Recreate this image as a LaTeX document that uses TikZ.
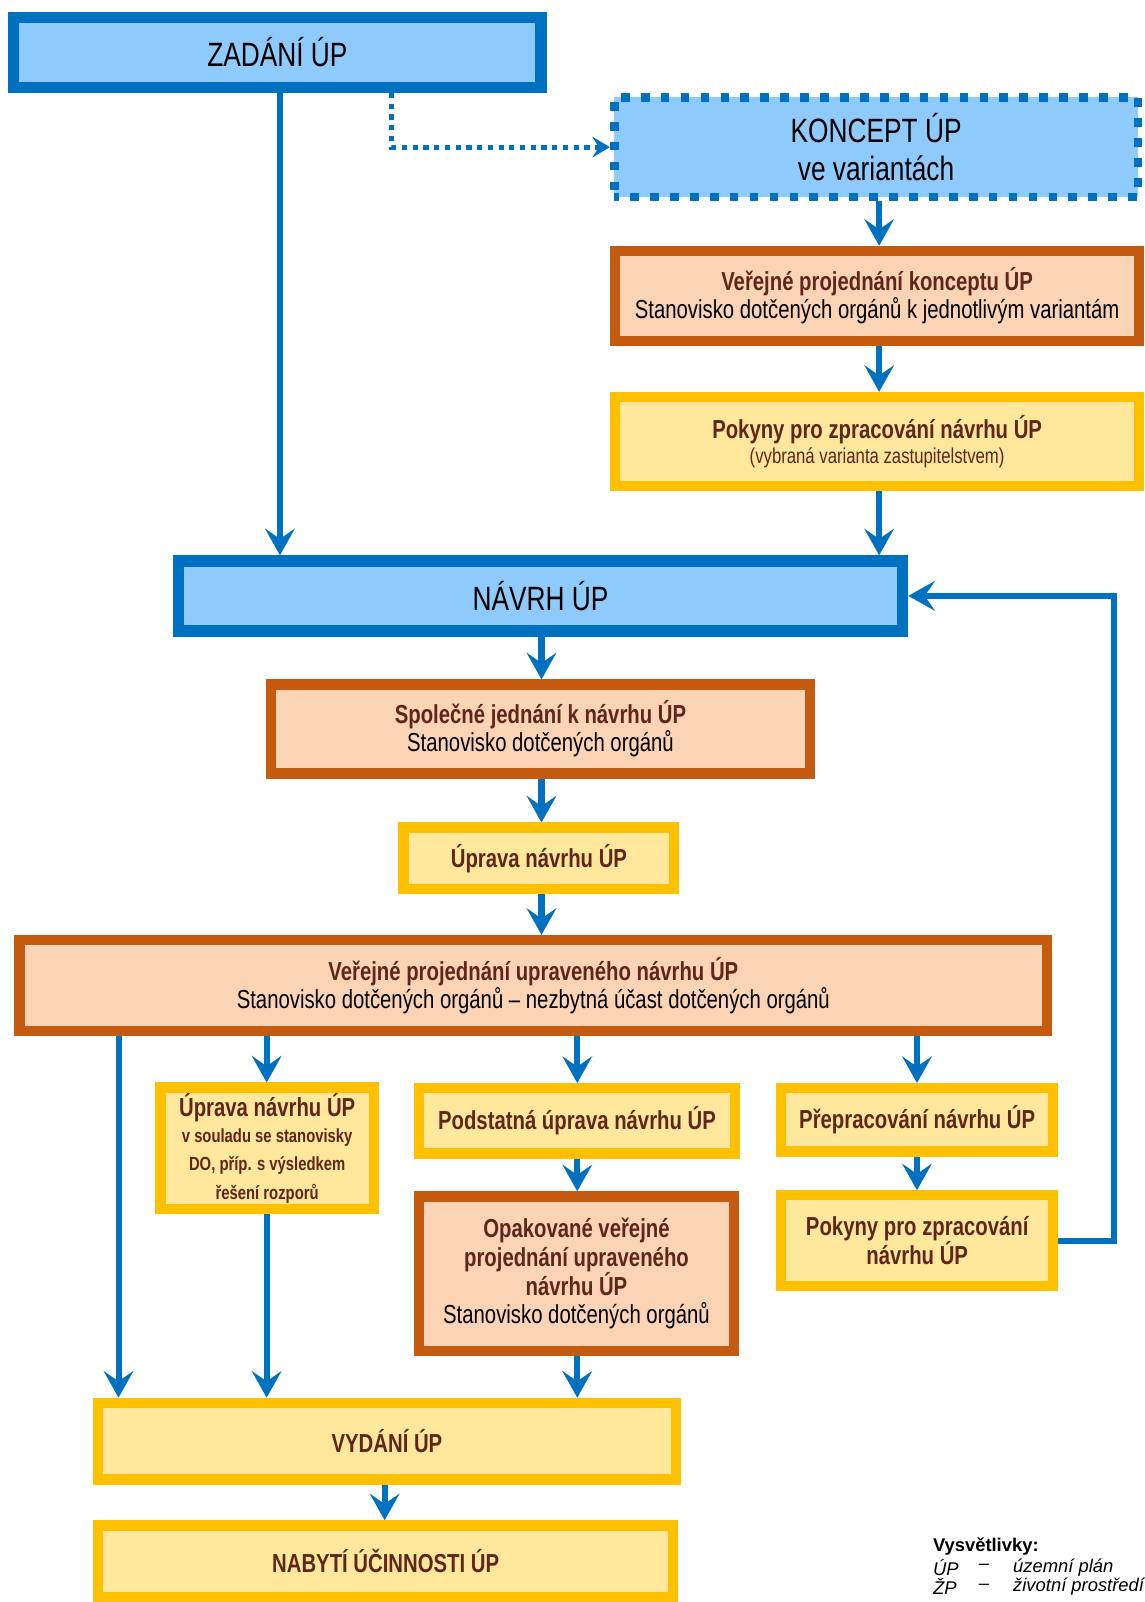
\documentclass[tikz,border=0pt]{standalone}
\usepackage{fontspec}
\setmainfont{Liberation Sans}[FakeStretch=0.78]
\newfontfamily\legendfont{Liberation Sans}
\usetikzlibrary{arrows.meta}
\definecolor{bline}{RGB}{0,112,192}
\definecolor{bfill}{RGB}{142,203,252}
\definecolor{brline}{RGB}{197,90,17}
\definecolor{peach}{RGB}{251,212,181}
\definecolor{yline}{RGB}{255,192,0}
\definecolor{yfill}{RGB}{255,231,155}
\definecolor{btext}{RGB}{96,37,27}
\tikzset{
  boxbase/.style={inner sep=0pt, align=center, font=\fontsize{25.5}{27.5}\selectfont},
  bluebox/.style={boxbase, draw=bline, fill=bfill, line width=11pt, text=black, font=\fontsize{33}{37}\selectfont},
  dashbox/.style={boxbase, draw=bline, fill=bfill, line width=8.5pt, dash pattern=on 8.5pt off 11pt, dash phase=4pt, text=black, font=\fontsize{33}{37}\selectfont},
  brownbox/.style={boxbase, draw=brline, fill=peach, line width=10pt},
  yellowbox/.style={boxbase, draw=yline, fill=yfill, line width=10pt, text=btext},
  arr/.style={draw=bline, line width=5.9pt, -{Stealth[length=26pt,width=29pt,inset=10pt]}},
  dotarr/.style={draw=bline, line width=4.9pt, dash pattern=on 5pt off 5.5pt, -{Stealth[length=17pt,width=20pt,inset=6pt]}},
  legend/.style={inner sep=0pt, anchor=west, font=\legendfont\fontsize{18}{20}\selectfont},
}
\newcommand\bx[8]{\node[#2, minimum width={#6-#4-#3}, minimum height={#7-#5-#3}] (#1) at ({(#4+#6)/2},{(#5+#7)/2}) {#8};}
\newcommand\tb[1]{{\color{btext}\bfseries #1}}
\newcommand\smb{\bfseries\fontsize{18.6}{20.5}\selectfont}
\begin{document}
\begin{tikzpicture}[x=1pt,y=-1pt]
\useasboundingbox (0,0) rectangle (1120,1568);
\fill[white] (0,0) rectangle (1120,1568);

\bx{zad}{bluebox}{11}{8}{11.5}{535}{91}{ZADÁNÍ ÚP}
\bx{kon}{dashbox}{8.5}{597}{91}{1118}{197}{KONCEPT ÚP\\ve variantách}
\bx{vk}{brownbox}{10}{597}{240.5}{1120}{338.5}{\tb{Veřejné projednání konceptu ÚP}\\Stanovisko dotčených orgánů k jednotlivým variantám}
\bx{pk1}{yellowbox}{10}{597}{383.5}{1120}{481}{\bfseries Pokyny pro zpracování návrhu ÚP\\[-3pt]\fontsize{21}{24}\selectfont (vybraná varianta zastupitelstvem)}
\bx{navrh}{bluebox}{11}{169}{543.5}{889}{623}{NÁVRH ÚP}
\bx{sj}{brownbox}{10}{260}{665}{798}{762}{\tb{Společné jednání k návrhu ÚP}\\Stanovisko dotčených orgánů}
\bx{up1}{yellowbox}{10}{390}{805}{665}{875}{\bfseries Úprava návrhu ÚP}
\bx{veu}{brownbox}{10}{14}{915}{1030}{1014}{\tb{Veřejné projednání upraveného návrhu ÚP}\\Stanovisko dotčených orgánů – nezbytná účast dotčených orgánů}
\bx{up2}{yellowbox}{10}{152}{1059.5}{371}{1188.5}{\bfseries Úprava návrhu ÚP\\[-2pt]\smb v souladu se stanovisky\\\smb DO, příp. s výsledkem\\\smb řešení rozporů}
\bx{pod}{yellowbox}{10}{405}{1060}{724.5}{1134}{\bfseries Podstatná úprava návrhu ÚP}
\bx{opa}{brownbox}{10}{405}{1166}{723.5}{1327.5}{\tb{Opakované veřejné}\\\tb{projednání upraveného}\\\tb{návrhu ÚP}\\Stanovisko dotčených orgánů}
\bx{pre}{yellowbox}{10}{759.5}{1060}{1036}{1132}{\bfseries Přepracování návrhu ÚP}
\bx{pk2}{yellowbox}{10}{759.5}{1165}{1036}{1263.5}{\bfseries Pokyny pro zpracování\\\bfseries návrhu ÚP}
\bx{vyd}{yellowbox}{10}{91}{1368}{666.5}{1453}{\bfseries VYDÁNÍ ÚP}
\bx{nab}{yellowbox}{10}{91}{1488}{664}{1568}{\bfseries NABYTÍ ÚČINNOSTI ÚP}

\coordinate (cA) at (274,0);
\coordinate (cD) at (383.5,0);
\coordinate (cK) at (860.5,0);
\coordinate (cM) at (530,0);
\coordinate (c1) at (116,0);
\coordinate (c2) at (261,0);
\coordinate (c3) at (565,0);
\coordinate (c4) at (897.5,0);
\coordinate (c5) at (376.5,0);
\coordinate (fb) at (1090,0);

\draw[arr] (zad.south -| cA) -- (navrh.north -| cA);
\draw[dotarr] (zad.south -| cD) |- (kon.west);
\draw[arr] (kon.south -| cK) -- (vk.north -| cK);
\draw[arr] (vk.south -| cK) -- (pk1.north -| cK);
\draw[arr] (pk1.south -| cK) -- (navrh.north -| cK);
\draw[arr] (navrh.south -| cM) -- (sj.north -| cM);
\draw[arr] (sj.south -| cM) -- (up1.north -| cM);
\draw[arr] (up1.south -| cM) -- (veu.north -| cM);
\draw[arr] (veu.south -| c1) -- (vyd.north -| c1);
\draw[arr] (veu.south -| c2) -- (up2.north -| c2);
\draw[arr] (veu.south -| c3) -- (pod.north -| c3);
\draw[arr] (veu.south -| c4) -- (pre.north -| c4);
\draw[arr] (up2.south -| c2) -- (vyd.north -| c2);
\draw[arr] (pod.south -| c3) -- (opa.north -| c3);
\draw[arr] (opa.south -| c3) -- (vyd.north -| c3);
\draw[arr] (pre.south -| c4) -- (pk2.north -| c4);
\draw[arr] (vyd.south -| c5) -- (nab.north -| c5);
\draw[arr] (pk2.east) -- (pk2.east -| fb) -- (navrh.east -| fb) -- (navrh.east);

\node[legend] (lgt) at (913,1514) {\bfseries Vysvětlivky:};
\node[legend] (lg1a) at (913,1534) {\itshape ÚP};
\node[legend, anchor=center] (lg1b) at (963,1534) {\itshape –};
\node[legend] (lg1c) at (991.5,1534) {\itshape územní plán};
\node[legend] (lg2a) at (913,1553) {\itshape ŽP};
\node[legend, anchor=center] (lg2b) at (963,1553) {\itshape –};
\node[legend] (lg2c) at (991.5,1553) {\itshape životní prostředí};
\end{tikzpicture}
\end{document}
